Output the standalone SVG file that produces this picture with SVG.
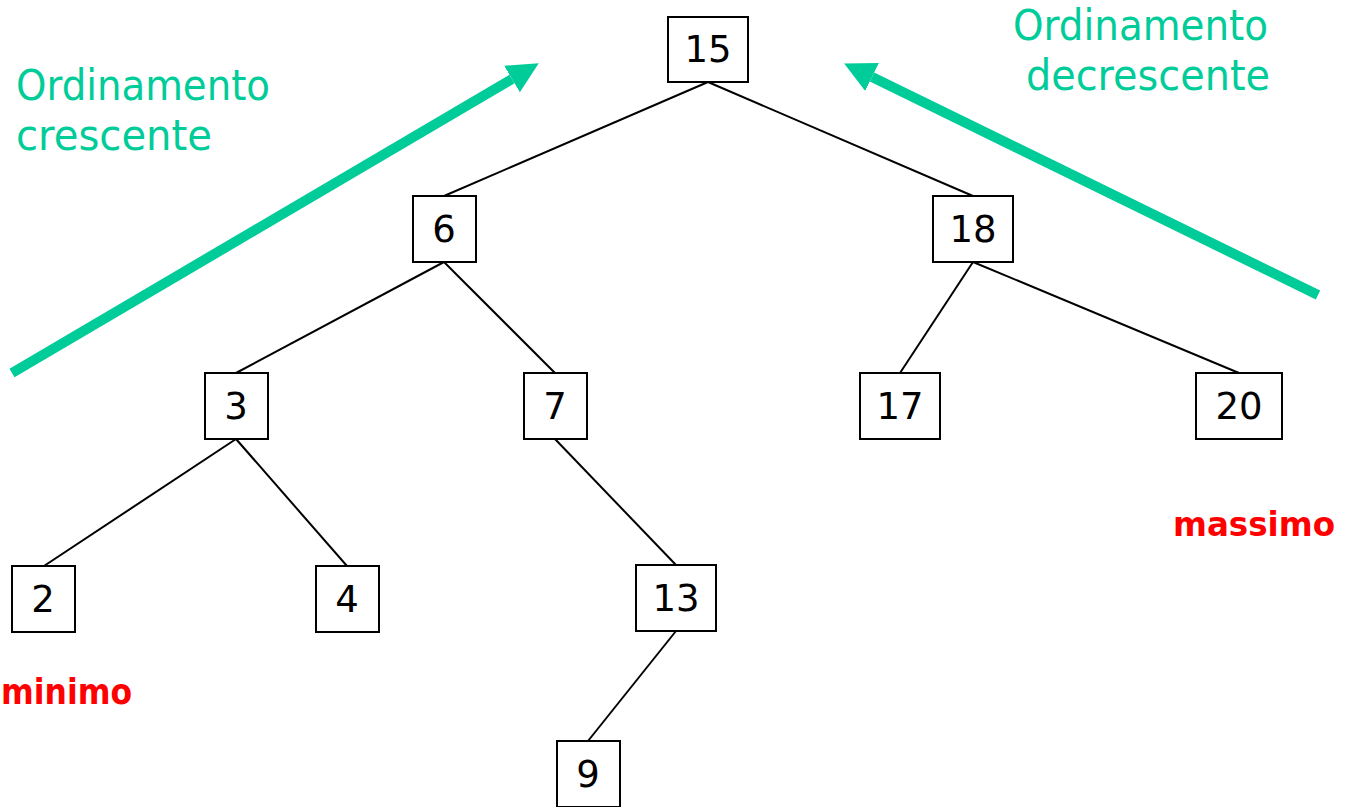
<svg xmlns="http://www.w3.org/2000/svg" width="1345" height="807" viewBox="0 0 1345 807">
<defs>
<style>
.node rect{fill:#fff;stroke:#000;stroke-width:2}
.node text{font-family:"Comic Sans MS","DejaVu Sans",sans-serif;font-size:37px;fill:#000;text-anchor:middle}
.edge{stroke:#000;stroke-width:2;fill:none}
.big{stroke:#00CC99;stroke-width:10;fill:none;marker-end:url(#head)}
.lbl{font-family:"Comic Sans MS","DejaVu Sans",sans-serif;font-size:42px;fill:#00CC99}
.red{font-family:"Comic Sans MS","DejaVu Sans",sans-serif;font-size:36px;font-weight:bold;fill:#FF0000}
</style>
<marker id="head" viewBox="0 0 10 10" refX="0" refY="5" markerWidth="3.1" markerHeight="3.2" orient="auto" markerUnits="strokeWidth">
<path d="M0,0 L10,5 L0,10 z" fill="#00CC99"/>
</marker>
</defs>
<rect width="1345" height="807" fill="#fff"/>
<g id="connectors">
<line class="edge" x1="708" y1="82" x2="444" y2="196"/>
<line class="edge" x1="708" y1="82" x2="973" y2="196"/>
<line class="edge" x1="444" y1="262" x2="236" y2="373"/>
<line class="edge" x1="444" y1="262" x2="555" y2="373"/>
<line class="edge" x1="973" y1="262" x2="900" y2="373"/>
<line class="edge" x1="973" y1="262" x2="1239" y2="373"/>
<line class="edge" x1="236" y1="439" x2="44" y2="566"/>
<line class="edge" x1="236" y1="439" x2="347" y2="566"/>
<line class="edge" x1="555" y1="439" x2="676" y2="565"/>
<line class="edge" x1="676" y1="631" x2="588" y2="741"/>
</g>
<g id="n15" class="node"><rect x="668" y="17" width="80" height="65"/><text x="708" y="62">15</text></g>
<g id="n6" class="node"><rect x="413" y="196" width="63" height="66"/><text x="444" y="242">6</text></g>
<g id="n18" class="node"><rect x="933" y="196" width="80" height="66"/><text x="973" y="242">18</text></g>
<g id="n3" class="node"><rect x="205" y="373" width="63" height="66"/><text x="236" y="419">3</text></g>
<g id="n7" class="node"><rect x="524" y="373" width="63" height="66"/><text x="555" y="419">7</text></g>
<g id="n17" class="node"><rect x="860" y="373" width="80" height="66"/><text x="900" y="419">17</text></g>
<g id="n20" class="node"><rect x="1196" y="373" width="86" height="66"/><text x="1239" y="419">20</text></g>
<g id="n2" class="node"><rect x="12" y="566" width="63" height="66"/><text x="43" y="612">2</text></g>
<g id="n4" class="node"><rect x="316" y="566" width="63" height="66"/><text x="347" y="612">4</text></g>
<g id="n13" class="node"><rect x="636" y="565" width="80" height="66"/><text x="676" y="611">13</text></g>
<g id="n9" class="node"><rect x="557" y="741" width="63" height="66"/><text x="588" y="787">9</text></g>
<g id="arrows">
<line class="big" x1="12" y1="373" x2="512" y2="79"/>
<line class="big" x1="1318" y1="295" x2="872" y2="77"/>
</g>
<g id="labels">
<text class="lbl" x="16" y="100" textLength="254" lengthAdjust="spacingAndGlyphs">Ordinamento</text>
<text class="lbl" x="16" y="150" textLength="196" lengthAdjust="spacingAndGlyphs">crescente</text>
<text class="lbl" x="1013" y="40" textLength="255" lengthAdjust="spacingAndGlyphs">Ordinamento</text>
<text class="lbl" x="1026" y="90" textLength="244" lengthAdjust="spacingAndGlyphs">decrescente</text>
<text class="red" x="1173" y="536" font-size="33" textLength="162" lengthAdjust="spacingAndGlyphs" style="font-size:33px">massimo</text>
<text class="red" x="1" y="704" textLength="131" lengthAdjust="spacingAndGlyphs">minimo</text>
</g>
</svg>
